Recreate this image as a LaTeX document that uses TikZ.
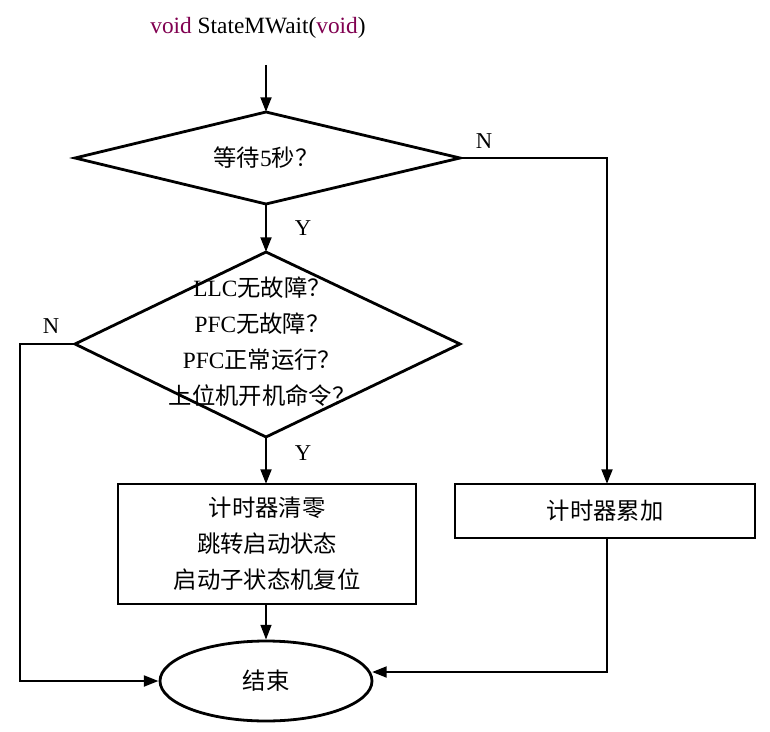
\documentclass[tikz,border=0pt]{standalone}
\usepackage{fontspec}
\setmainfont{Liberation Serif}
\newfontfamily\cjk{Noto Sans CJK SC}
\usetikzlibrary{shapes.geometric,arrows.meta}
\definecolor{kw}{RGB}{128,0,80}
\begin{document}
\begin{tikzpicture}[x=0.75pt,y=-0.75pt,
  ln/.style={line width=2.1pt},
  ar/.style={ln,-{Triangle[length=11pt,width=8pt]}},
  tx/.style={font=\fontsize{17.5}{21}\selectfont, align=center, inner sep=0pt},
  lb/.style={font=\fontsize{17}{20}\selectfont, inner sep=0pt}]
\useasboundingbox (0,0) rectangle (770,731);
\node[tx] (title) at (258,28) {\textcolor{kw}{void} StateMWait(\textcolor{kw}{void})};
\coordinate (s) at (266,65);
\draw[ln] (75,158) coordinate (d1l) -- (266,112) coordinate (d1t) -- (460,158) coordinate (d1r) -- (266,204) coordinate (d1b) -- cycle;
\node[tx] (d1) at (266,158) {{\cjk 等待}5{\cjk 秒？}};
\draw[ln] (75,344) coordinate (d2l) -- (266,252) coordinate (d2t) -- (460,344) coordinate (d2r) -- (266,437) coordinate (d2b) -- cycle;
\node[tx,font=\fontsize{17.5}{27}\selectfont] (d2) at (262,342) {LLC{\cjk 无故障？}\\PFC{\cjk 无故障？}\\PFC{\cjk 正常运行？}\\{\cjk 上位机开机命令？}};
\draw[ln] (118,484) rectangle (416,604);
\node[tx,font=\fontsize{17.5}{27}\selectfont] (b1t) at (267,544) {{\cjk 计时器清零}\\{\cjk 跳转启动状态}\\{\cjk 启动子状态机复位}};
\draw[ln] (455,484) rectangle (755,538);
\node[tx] (b2) at (605,511) {\cjk 计时器累加};
\node[draw,ln,ellipse,minimum width=159pt,minimum height=60pt,tx] (e) at (266,681) {\cjk 结束};
\draw[ar] (s) -- (d1t);
\draw[ar] (d1b) -- (d2t);
\draw[ar] (d2b) -- (266,484);
\draw[ar,line width=1.5pt] (266,604) -- (e.north);
\draw[ar] (d1r) -- (607,158) -- (607,484);
\draw[ar] (d2l) -- (20,344) -- (20,681) -- (e.west);
\draw[ar] (607,538) -- (607,672) -- (372,672);
\node[lb] (n1) at (484,141) {N};
\node[lb] (n2) at (51,326) {N};
\node[lb] (y1) at (303,228) {Y};
\node[lb] (y2) at (303,453) {Y};
\end{tikzpicture}
\end{document}
